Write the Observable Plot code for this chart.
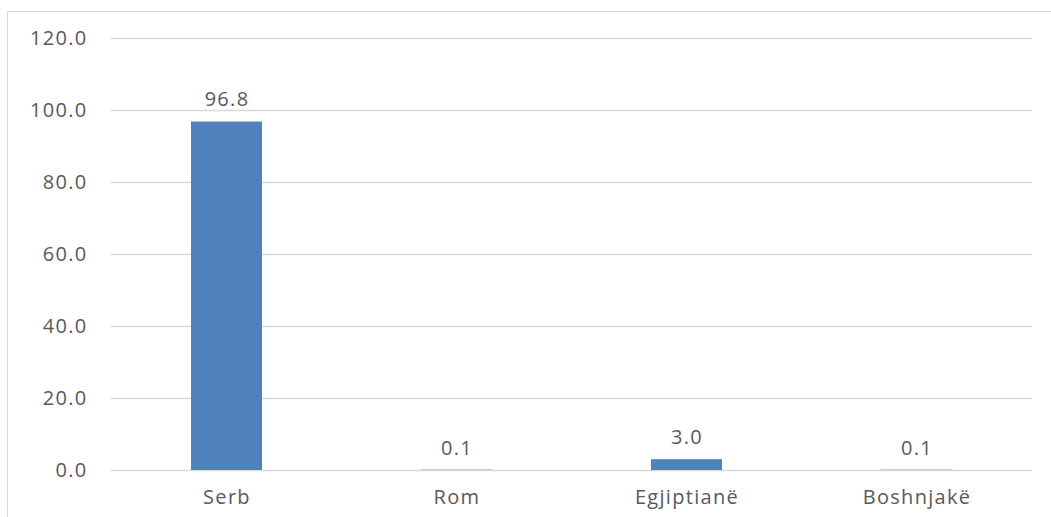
<!DOCTYPE html>
<html>
<head>
<meta charset="utf-8">
<script src="https://cdn.jsdelivr.net/npm/d3@7"></script>
<script src="https://cdn.jsdelivr.net/npm/@observablehq/plot@0.6"></script>
<style>
  html, body { margin: 0; padding: 0; background: #fff; overflow: hidden; }
  #wrap { position: relative; width: 1051px; height: 517px; }
  #border { position: absolute; left: 7px; top: 11px; width: 1100px; height: 600px; border: 1px solid #d9d9d9; box-sizing: border-box; pointer-events: none; }
  svg text { letter-spacing: 1.3px; }
</style>
</head>
<body>
<div id="wrap"><div id="border"></div></div>
<script>
const categories = ["Serb", "Rom", "Egjiptianë", "Boshnjakë"];
const values = [96.8, 0.1, 3.0, 0.1];
const yTicks = [0, 20, 40, 60, 80, 100, 120];

const data = categories.map((c, i) => ({category: c, value: values[i]}));

const chart = Plot.plot({
  width: 1051,
  height: 517,
  marginLeft: 111,
  marginRight: 19,
  marginTop: 38,
  marginBottom: 47,
  style: {fontFamily: "'Open Sans', sans-serif", fontSize: "20px", color: "#595959", background: "transparent"},
  x: {domain: categories, paddingInner: 0.69, paddingOuter: 0.345, label: null},
  y: {domain: [0, 120], label: null},
  marks: [
    Plot.gridY(yTicks, {stroke: "#d9d9d9", strokeOpacity: 1, strokeWidth: 1.3}),
    Plot.axisY(yTicks, {tickSize: 0, tickPadding: 24, tickFormat: d => d.toFixed(1), label: null, fill: "#595959", fontSize: 20}),
    Plot.axisX({tickSize: 0, tickPadding: 19, label: null, fill: "#595959", fontSize: 20}),
    Plot.barY(data, {x: "category", y: "value", fill: "#4F81BD"}),
    Plot.text(data, {x: "category", y: "value", text: d => d.value.toFixed(1), dy: -22, fill: "#595959", fontSize: 20})
  ]
});
chart.style.position = "absolute";
chart.style.left = "0";
chart.style.top = "0";
document.getElementById("wrap").appendChild(chart);
</script>
</body>
</html>
